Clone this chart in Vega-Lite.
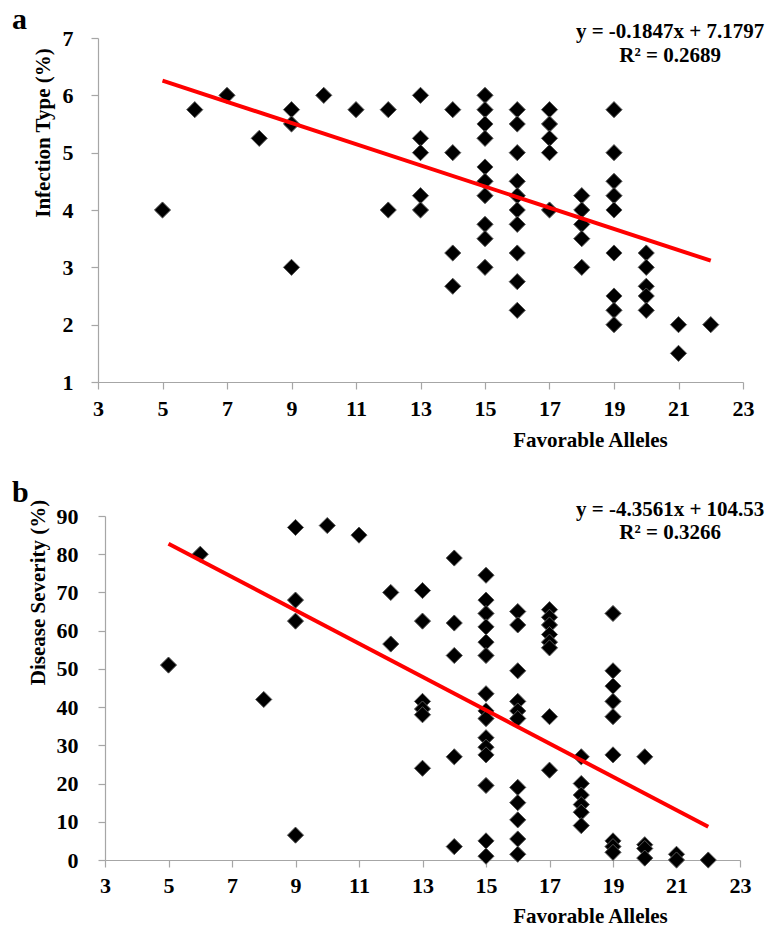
{
  "$schema": "https://vega.github.io/schema/vega-lite/v6.json",
  "background": "white",
  "padding": {"left": 12, "top": 5, "right": 5, "bottom": 3},
  "spacing": 28,
  "columns": 1,
  "align": "none",
  "bounds": "full",
  "config": {
    "view": {"stroke": null},
    "axis": {
      "grid": false,
      "labelFont": "Liberation Serif",
      "labelFontWeight": "bold",
      "labelFontSize": 22,
      "labelColor": "#000000",
      "titleFont": "Liberation Serif",
      "titleFontWeight": "bold",
      "titleFontSize": 21,
      "titleColor": "#000000",
      "domainColor": "#a6a6a6",
      "tickColor": "#a6a6a6",
      "domainWidth": 1.2,
      "tickWidth": 1.2,
      "tickSize": 7,
      "labelFlush": false,
      "labelOverlap": false,
      "labelSeparation": 0
    },
    "axisY": {"labelOverlap": false},
    "axisQuantitative": {"labelOverlap": false},
    "title": {"font": "Liberation Serif", "fontWeight": "bold", "fontSize": 30, "color": "#000000", "anchor": "start", "frame": "group", "baseline": "alphabetic"}
  },
  "datasets": {
    "ptsA": [
      {"x": 5, "y": 4}, {"x": 6, "y": 5.75}, {"x": 7, "y": 6}, {"x": 8, "y": 5.25},
      {"x": 9, "y": 5.75}, {"x": 9, "y": 5.5}, {"x": 9, "y": 3},
      {"x": 10, "y": 6}, {"x": 11, "y": 5.75}, {"x": 12, "y": 5.75}, {"x": 12, "y": 4},
      {"x": 13, "y": 6}, {"x": 13, "y": 5.25}, {"x": 13, "y": 5}, {"x": 13, "y": 4.25}, {"x": 13, "y": 4},
      {"x": 14, "y": 5.75}, {"x": 14, "y": 5}, {"x": 14, "y": 3.25}, {"x": 14, "y": 2.67},
      {"x": 15, "y": 6}, {"x": 15, "y": 5.75}, {"x": 15, "y": 5.5}, {"x": 15, "y": 5.25}, {"x": 15, "y": 4.75},
      {"x": 15, "y": 4.5}, {"x": 15, "y": 4.25}, {"x": 15, "y": 3.75}, {"x": 15, "y": 3.5}, {"x": 15, "y": 3},
      {"x": 16, "y": 5.75}, {"x": 16, "y": 5.5}, {"x": 16, "y": 5}, {"x": 16, "y": 4.5}, {"x": 16, "y": 4.25},
      {"x": 16, "y": 4}, {"x": 16, "y": 3.75}, {"x": 16, "y": 3.25}, {"x": 16, "y": 2.75}, {"x": 16, "y": 2.25},
      {"x": 17, "y": 5.75}, {"x": 17, "y": 5.5}, {"x": 17, "y": 5.25}, {"x": 17, "y": 5}, {"x": 17, "y": 4},
      {"x": 18, "y": 4.25}, {"x": 18, "y": 4}, {"x": 18, "y": 3.75}, {"x": 18, "y": 3.5}, {"x": 18, "y": 3},
      {"x": 19, "y": 5.75}, {"x": 19, "y": 5}, {"x": 19, "y": 4.5}, {"x": 19, "y": 4.25}, {"x": 19, "y": 4},
      {"x": 19, "y": 3.25}, {"x": 19, "y": 2.5}, {"x": 19, "y": 2.25}, {"x": 19, "y": 2},
      {"x": 20, "y": 3.25}, {"x": 20, "y": 3}, {"x": 20, "y": 2.67}, {"x": 20, "y": 2.5}, {"x": 20, "y": 2.25},
      {"x": 21, "y": 2}, {"x": 21, "y": 1.5}, {"x": 22, "y": 2}
    ],
    "lineA": [{"x": 5, "y": 6.256}, {"x": 22, "y": 3.116}],
    "ptsB": [
      {"x": 5, "y": 51}, {"x": 6, "y": 80}, {"x": 8, "y": 42},
      {"x": 9, "y": 87}, {"x": 9, "y": 68}, {"x": 9, "y": 62.5}, {"x": 9, "y": 6.5},
      {"x": 10, "y": 87.5}, {"x": 11, "y": 85}, {"x": 12, "y": 70}, {"x": 12, "y": 56.5},
      {"x": 13, "y": 70.5}, {"x": 13, "y": 62.5}, {"x": 13, "y": 41.5}, {"x": 13, "y": 39.5}, {"x": 13, "y": 38}, {"x": 13, "y": 24},
      {"x": 14, "y": 79}, {"x": 14, "y": 62}, {"x": 14, "y": 53.5}, {"x": 14, "y": 27}, {"x": 14, "y": 3.5},
      {"x": 15, "y": 74.5}, {"x": 15, "y": 68}, {"x": 15, "y": 64.5}, {"x": 15, "y": 61}, {"x": 15, "y": 57},
      {"x": 15, "y": 53.5}, {"x": 15, "y": 43.5}, {"x": 15, "y": 39}, {"x": 15, "y": 37}, {"x": 15, "y": 32},
      {"x": 15, "y": 29.5}, {"x": 15, "y": 27.5}, {"x": 15, "y": 19.5}, {"x": 15, "y": 5}, {"x": 15, "y": 1},
      {"x": 16, "y": 65}, {"x": 16, "y": 61.5}, {"x": 16, "y": 49.5}, {"x": 16, "y": 41.5}, {"x": 16, "y": 39},
      {"x": 16, "y": 37}, {"x": 16, "y": 19}, {"x": 16, "y": 15}, {"x": 16, "y": 10.5}, {"x": 16, "y": 5.5}, {"x": 16, "y": 1.5},
      {"x": 17, "y": 65.5}, {"x": 17, "y": 63.5}, {"x": 17, "y": 61.5}, {"x": 17, "y": 59}, {"x": 17, "y": 57},
      {"x": 17, "y": 55.5}, {"x": 17, "y": 37.5}, {"x": 17, "y": 23.5},
      {"x": 18, "y": 27}, {"x": 18, "y": 20}, {"x": 18, "y": 17}, {"x": 18, "y": 14.5}, {"x": 18, "y": 12.5}, {"x": 18, "y": 9},
      {"x": 19, "y": 64.5}, {"x": 19, "y": 49.5}, {"x": 19, "y": 45.5}, {"x": 19, "y": 41.5}, {"x": 19, "y": 37.5},
      {"x": 19, "y": 27.5}, {"x": 19, "y": 5}, {"x": 19, "y": 3.5}, {"x": 19, "y": 2},
      {"x": 20, "y": 27}, {"x": 20, "y": 4}, {"x": 20, "y": 3}, {"x": 20, "y": 0.5},
      {"x": 21, "y": 1.5}, {"x": 21, "y": 0}, {"x": 22, "y": 0}
    ],
    "lineB": [{"x": 5, "y": 82.75}, {"x": 22, "y": 8.69}],
    "one": [{}]
  },
  "concat": [
    {
      "width": 645,
      "height": 344,
      "title": {"text": "a", "dx": -86, "dy": 25, "offset": 11},
      "layer": [
        {
          "data": {"name": "ptsA"},
          "mark": {"type": "point", "shape": "diamond", "filled": true, "size": 260, "color": "#000000", "stroke": "#555555", "strokeWidth": 1, "opacity": 1},
          "encoding": {
            "x": {"field": "x", "type": "quantitative", "scale": {"domain": [3, 23], "nice": false, "zero": false},
              "axis": {"values": [3, 5, 7, 9, 11, 13, 15, 17, 19, 21, 23], "format": "d", "labelOverlap": false, "title": "Favorable Alleles", "titleX": 492, "titleY": 58, "titleAlign": "center", "titleBaseline": "middle", "labelBaseline": "middle", "labelPadding": 19}},
            "y": {"field": "y", "type": "quantitative", "scale": {"domain": [1, 7], "nice": false, "zero": false},
              "axis": {"values": [1, 2, 3, 4, 5, 6, 7], "format": "d", "labelOverlap": false, "title": "Infection Type (%)", "titleX": -55, "titleY": 94.5, "titleAngle": -90, "titleAlign": "center", "titleBaseline": "middle", "labelPadding": 18}}
          }
        },
        {
          "data": {"name": "lineA"},
          "mark": {"type": "line", "color": "#ff0000", "strokeWidth": 4},
          "encoding": {
            "x": {"field": "x", "type": "quantitative"},
            "y": {"field": "y", "type": "quantitative"}
          }
        },
        {
          "data": {"name": "one"},
          "mark": {"type": "text", "text": ["y = -0.1847x + 7.1797", "R² = 0.2689"], "font": "Liberation Serif", "fontWeight": "bold", "fontSize": 21, "align": "center", "baseline": "alphabetic", "lineHeight": 24, "color": "#000000"},
          "encoding": {
            "x": {"datum": 20.74, "type": "quantitative"},
            "y": {"datum": 7, "type": "quantitative"}
          }
        }
      ]
    },
    {
      "width": 642,
      "height": 344,
      "title": {"text": "b", "dx": -86, "dy": 22, "offset": 13},
      "layer": [
        {
          "data": {"name": "ptsB"},
          "mark": {"type": "point", "shape": "diamond", "filled": true, "size": 260, "color": "#000000", "stroke": "#555555", "strokeWidth": 1, "opacity": 1},
          "encoding": {
            "x": {"field": "x", "type": "quantitative", "scale": {"domain": [3, 23], "range": [7, 642], "nice": false, "zero": false},
              "axis": {"values": [3, 5, 7, 9, 11, 13, 15, 17, 19, 21, 23], "format": "d", "labelOverlap": false, "title": "Favorable Alleles", "titleX": 492, "titleY": 56, "titleAlign": "center", "titleBaseline": "middle", "labelBaseline": "middle", "labelPadding": 18}},
            "y": {"field": "y", "type": "quantitative", "scale": {"domain": [0, 90], "nice": false, "zero": false},
              "axis": {"values": [0, 10, 20, 30, 40, 50, 60, 70, 80, 90], "tickCount": 10, "format": "d", "labelOverlap": false, "labelSeparation": 0, "labelBound": false, "offset": -7, "title": "Disease Severity (%)", "titleX": -67, "titleY": 76, "titleAngle": -90, "titleAlign": "center", "titleBaseline": "middle", "labelPadding": 20}}
          }
        },
        {
          "data": {"name": "lineB"},
          "mark": {"type": "line", "color": "#ff0000", "strokeWidth": 4},
          "encoding": {
            "x": {"field": "x", "type": "quantitative"},
            "y": {"field": "y", "type": "quantitative", "axis": {"values": [0, 10, 20, 30, 40, 50, 60, 70, 80, 90], "labelOverlap": false}}
          }
        },
        {
          "data": {"name": "one"},
          "mark": {"type": "text", "text": ["y = -4.3561x + 104.53", "R² = 0.3266"], "font": "Liberation Serif", "fontWeight": "bold", "fontSize": 21, "align": "center", "baseline": "alphabetic", "lineHeight": 23, "color": "#000000"},
          "encoding": {
            "x": {"datum": 20.8, "type": "quantitative"},
            "y": {"datum": 90, "type": "quantitative"}
          }
        }
      ]
    }
  ]
}
